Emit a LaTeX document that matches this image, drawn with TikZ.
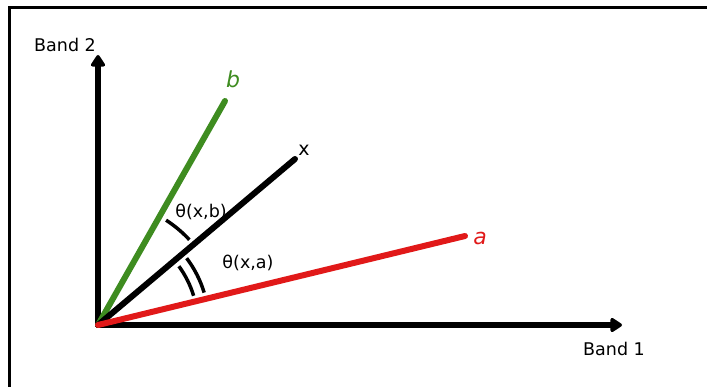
\documentclass[tikz,border=0pt]{standalone}
\usepackage{fontspec}
\setmainfont{DejaVu Sans}
\usetikzlibrary{arrows.meta}
\definecolor{vgreen}{RGB}{62,140,32}
\definecolor{vred}{RGB}{225,25,25}
\tikzset{
  axis/.style={line width=5.5pt, -{Triangle[round,length=13pt,width=16pt]}},
  vec/.style={line width=6pt, line cap=round},
  arcline/.style={line width=3.5pt},
  lbl/.style={font=\fontsize{17.5}{20}\selectfont, inner sep=0pt},
  frame/.style={line width=3.5pt}
}
\begin{document}
\begin{tikzpicture}[x=1pt,y=-1pt]
\useasboundingbox (0,0) rectangle (707,387);
\fill[white] (0,0) rectangle (707,387);
% frame (top and left edges)
\coordinate (FT) at (707,7.5);
\coordinate (FC) at (9.5,7.5);
\coordinate (FB) at (9.5,387);
\draw[frame] (FT) -- (FC) -- (FB);
% axes
\coordinate (O) at (98,325);
\coordinate (Y) at (98,55);
\coordinate (X) at (622,325);
\draw[axis] (98,327) -- (Y);
\draw[axis] (96,325) -- (X);
\node[lbl] (band2) at (65,45) {Band 2};
\node[lbl] (band1) at (614,349) {Band 1};
% vectors
\coordinate (B) at (225,101);
\coordinate (XV) at (295,159);
\coordinate (A) at (465,236);
\draw[vec, vgreen] (O) -- (B);
\draw[vec, black] (O) -- (XV);
\draw[vec, vred] (O) -- (A);
\node[lbl, text=vgreen, font=\fontsize{22}{24}\selectfont\itshape] (lb) at (233,79) {b};
\node[lbl, font=\fontsize{19}{21}\selectfont] (lx) at (304,150) {x};
\node[lbl, text=vred, font=\fontsize{22}{24}\selectfont\itshape] (la) at (480,238) {a};
% angle arcs
\draw[arcline] ([shift={(-57:125)}]O) arc[start angle=-57, end angle=-43, radius=125];
\draw[arcline] ([shift={(-36:100)}]O) arc[start angle=-36, end angle=-17, radius=100];
\draw[arcline] ([shift={(-37:111)}]O) arc[start angle=-37, end angle=-17, radius=111];
\node[lbl] (tb) at (201,212) {θ(x,b)};
\node[lbl] (ta) at (248,263) {θ(x,a)};
\end{tikzpicture}
\end{document}
